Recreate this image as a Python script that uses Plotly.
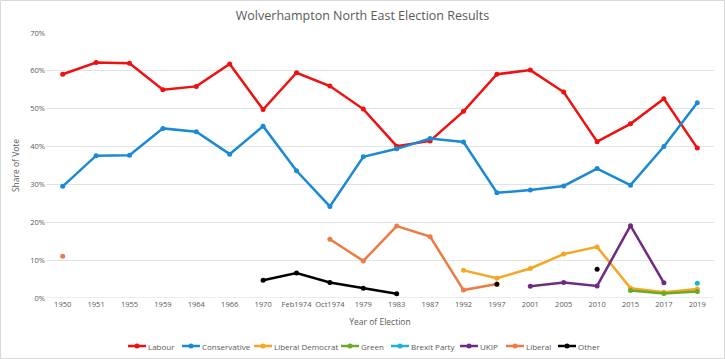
import plotly.graph_objects as go

years = ["1950", "1951", "1955", "1959", "1964", "1966", "1970", "Feb1974", "Oct1974", "1979",
         "1983", "1987", "1992", "1997", "2001", "2005", "2010", "2015", "2017", "2019"]
N = None
labour = [59.1, 62.2, 62.0, 55.0, 55.9, 61.8, 49.8, 59.5, 56.0, 49.9,
          40.1, 41.5, 49.3, 59.1, 60.2, 54.4, 41.3, 46.0, 52.6, 39.6]
conservative = [29.5, 37.6, 37.7, 44.8, 43.9, 38.0, 45.4, 33.6, 24.2, 37.3,
                39.4, 42.1, 41.2, 27.8, 28.5, 29.6, 34.2, 29.8, 40.0, 51.6]
lib_dem = [N, N, N, N, N, N, N, N, N, N,
           N, N, 7.3, 5.2, 7.8, 11.6, 13.5, 2.6, 1.5, 2.4]
green = [N, N, N, N, N, N, N, N, N, N,
         N, N, N, N, N, N, N, 2.0, 1.2, 1.7]
brexit = [N, N, N, N, N, N, N, N, N, N,
          N, N, N, N, N, N, N, N, N, 3.9]
ukip = [N, N, N, N, N, N, N, N, N, N,
        N, N, N, N, 3.1, 4.1, 3.2, 19.1, 4.0, N]
liberal = [11.0, N, N, N, N, N, N, N, 15.5, 9.8,
           19.0, 16.2, 2.1, 3.7, N, N, N, N, N, N]
other = [N, N, N, N, N, N, 4.7, 6.6, 4.1, 2.6,
         1.1, N, N, 3.6, N, N, 7.6, N, N, N]

series = [
    ("Labour", labour, "#EE1111"),
    ("Conservative", conservative, "#1A8AD4"),
    ("Liberal Democrat", lib_dem, "#F5A623"),
    ("Green", green, "#6AAA28"),
    ("Brexit Party", brexit, "#1BB3D3"),
    ("UKIP", ukip, "#6E2C80"),
    ("Liberal", liberal, "#EC7B45"),
    ("Other", other, "#000000"),
]

# layout constants (pixels)
W, H = 725, 359
L, R, T, B = 46, 11, 33, 61
PW, PH = W - L - R, H - T - B
legend_px_x = [128, 182, 254, 341, 391, 460, 506, 558]  # left edge of each legend symbol
legend_px_y = 346
sym_len = 18

def px_to_paper_x(px):
    return (px - L) / PW

def px_to_paper_y(py):
    return (H - B - py) / PH

fig = go.Figure()
for name, vals, color in series:
    fig.add_trace(go.Scatter(
        x=years, y=vals, name=name, mode="lines+markers",
        line=dict(color=color, width=2.5),
        marker=dict(color=color, size=5),
        connectgaps=False, showlegend=False,
    ))

font_family = "Open Sans, Liberation Sans, sans-serif"
grey = "#595959"

# manual legend (Excel-style short symbols)
ly = px_to_paper_y(legend_px_y)
for (name, vals, color), lx in zip(series, legend_px_x):
    x0 = px_to_paper_x(lx)
    x1 = px_to_paper_x(lx + sym_len)
    fig.add_shape(type="line", xref="paper", yref="paper", x0=x0, x1=x1, y0=ly, y1=ly,
                  line=dict(color=color, width=2.5))
    fig.add_shape(type="circle", xref="paper", yref="paper",
                  x0=px_to_paper_x(lx + sym_len / 2 - 2.5), x1=px_to_paper_x(lx + sym_len / 2 + 2.5),
                  y0=ly - 2.5 / PH, y1=ly + 2.5 / PH,
                  line=dict(color=color, width=0), fillcolor=color)
    fig.add_annotation(text=name, xref="paper", yref="paper", x=x1, y=ly,
                       xanchor="left", yanchor="middle", showarrow=False, xshift=0,
                       font=dict(size=8, color=grey, family=font_family))

fig.update_layout(
    width=W, height=H,
    margin=dict(l=L, r=R, t=T, b=B),
    paper_bgcolor="white", plot_bgcolor="white",
    font=dict(family=font_family, color=grey, size=9),
    title=dict(text="Wolverhampton North East Election Results", x=0.5, xanchor="center",
               y=1 - 16 / H, yanchor="middle",
               font=dict(size=12.5, color=grey, family=font_family)),
    showlegend=False,
    xaxis=dict(
        type="category", showgrid=False, zeroline=False, showline=False,
        ticks="", tickangle=0, tickfont=dict(size=7.5, color=grey),
        title=dict(text="Year of Election", font=dict(size=8.5, color=grey), standoff=11),
        range=[-0.5, 19.5],
    ),
    yaxis=dict(
        range=[0, 70], dtick=10, ticksuffix="%", showgrid=True, gridcolor="#E3E3E3",
        gridwidth=1, zeroline=False, showline=False,
        tickfont=dict(size=7.5, color=grey),
        title=dict(text="Share of Vote", font=dict(size=8.5, color=grey), standoff=9),
    ),
)
fig.add_shape(type="line", xref="paper", yref="y", x0=0, x1=1, y0=0, y1=0,
              line=dict(color="#D9D9D9", width=1), layer="below")
fig.add_shape(type="rect", xref="paper", yref="paper",
              x0=-(L - 0.5) / PW, x1=1 + (R - 0.5) / PW, y0=-(B - 0.5) / PH, y1=1 + (T - 0.5) / PH,
              line=dict(color="#D9D9D9", width=1))

fig.write_html("out.html", config={"displayModeBar": False},
               post_script="document.body.style.margin='0';")
